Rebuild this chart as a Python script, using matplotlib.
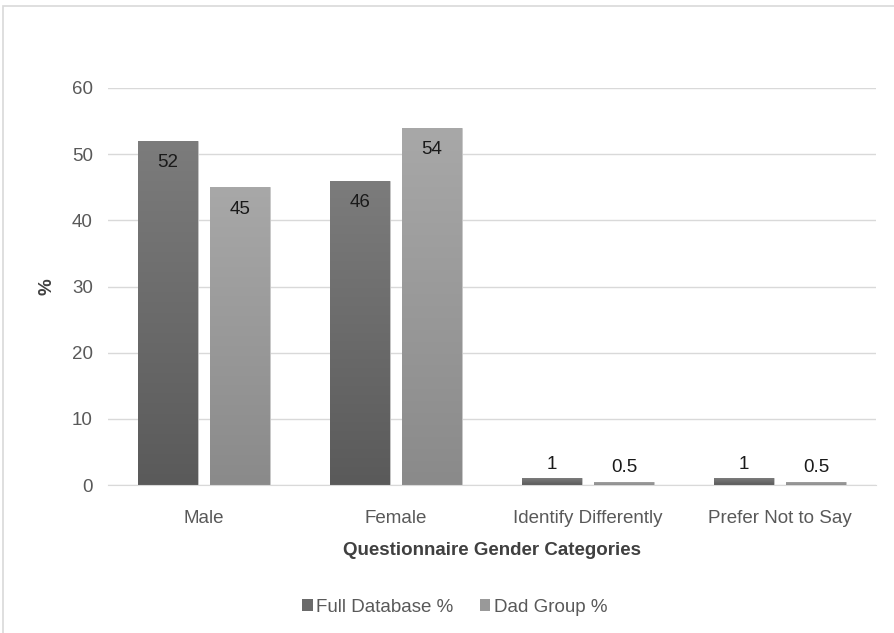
import numpy as np
import matplotlib.pyplot as plt
from matplotlib.patches import Rectangle
from matplotlib.colors import LinearSegmentedColormap

plt.rcParams['font.family'] = ['Liberation Sans', 'DejaVu Sans']

categories = ['Male', 'Female', 'Identify Differently', 'Prefer Not to Say']
full_db = [52, 46, 1, 1]
dad_group = [45, 54, 0.5, 0.5]
series_names = ['Full Database %', 'Dad Group %']

fig = plt.figure(figsize=(8.94, 6.33), dpi=100)
ax = fig.add_axes([108 / 894, 148 / 633, 768 / 894, 397 / 633])

# light frame round the chart area
fig.patches.append(Rectangle((3 / 894, -0.1), 1.1, 1 - 6 / 633 + 0.1,
                             transform=fig.transFigure, fill=False,
                             edgecolor='#d9d9d9', linewidth=1.2))

x = np.arange(len(categories))
w = 0.3125
off = 0.1875

dark = LinearSegmentedColormap.from_list('dark', ['#5a5a5a', '#7c7c7c'])
light = LinearSegmentedColormap.from_list('light', ['#8a8a8a', '#a8a8a8'])
grad = np.linspace(0, 1, 256).reshape(-1, 1)


def gradient_bars(xs, vals, cmap, solid):
    bars = ax.bar(xs, vals, w, color=solid, edgecolor='#c8c8c8',
                  linewidth=0.6, zorder=2)
    for b in bars:
        x0, y0 = b.get_x(), b.get_y()
        im = ax.imshow(grad, cmap=cmap, aspect='auto', origin='lower',
                       extent=[x0, x0 + b.get_width(), y0, y0 + b.get_height()],
                       zorder=2.5)
        im.set_clip_path(b)
    return bars


b1 = gradient_bars(x - off, full_db, dark, '#6a6a6a')
b2 = gradient_bars(x + off, dad_group, light, '#999999')

for bars, vals in [(b1, full_db), (b2, dad_group)]:
    for b, v in zip(bars, vals):
        cx = b.get_x() + b.get_width() / 2
        txt = f'{v:g}'
        if v > 10:
            ax.text(cx, v - 3.3, txt, ha='center', va='center', fontsize=13.5,
                    color='#1a1a1a', zorder=4)
        else:
            ax.text(cx, v + 2.1, txt, ha='center', va='center', fontsize=13.5,
                    color='#1a1a1a', zorder=4)

ax.set_xlim(-0.5, 3.5)
ax.set_ylim(0, 60)
ax.set_yticks(range(0, 61, 10))
ax.set_xticks(x)
ax.set_xticklabels(categories)
ax.grid(axis='y', color='#d9d9d9', linewidth=1, zorder=0)
ax.set_axisbelow(True)
for s in ['top', 'right', 'left']:
    ax.spines[s].set_visible(False)
ax.spines['bottom'].set_color('#d9d9d9')
ax.tick_params(axis='both', length=0, labelsize=13.5, colors='#595959')
ax.tick_params(axis='x', pad=18)
ax.tick_params(axis='y', pad=11)
ax.set_ylabel('%', fontsize=13.5, fontweight='bold', color='#404040', labelpad=12)
ax.set_xlabel('Questionnaire Gender Categories', fontsize=13.5,
              fontweight='bold', color='#404040', labelpad=11)

handles = [Rectangle((0, 0), 1, 1, facecolor='#6a6a6a'),
           Rectangle((0, 0), 1, 1, facecolor='#999999')]
fig.legend(handles, series_names, loc='center', bbox_to_anchor=(455 / 894, 1 - 607 / 633),
           ncol=2, frameon=False, fontsize=13.5, handlelength=0.55, handleheight=0.55,
           handletextpad=0.2, columnspacing=1.4, labelcolor='#595959')

fig.savefig('out.png', dpi=100)
